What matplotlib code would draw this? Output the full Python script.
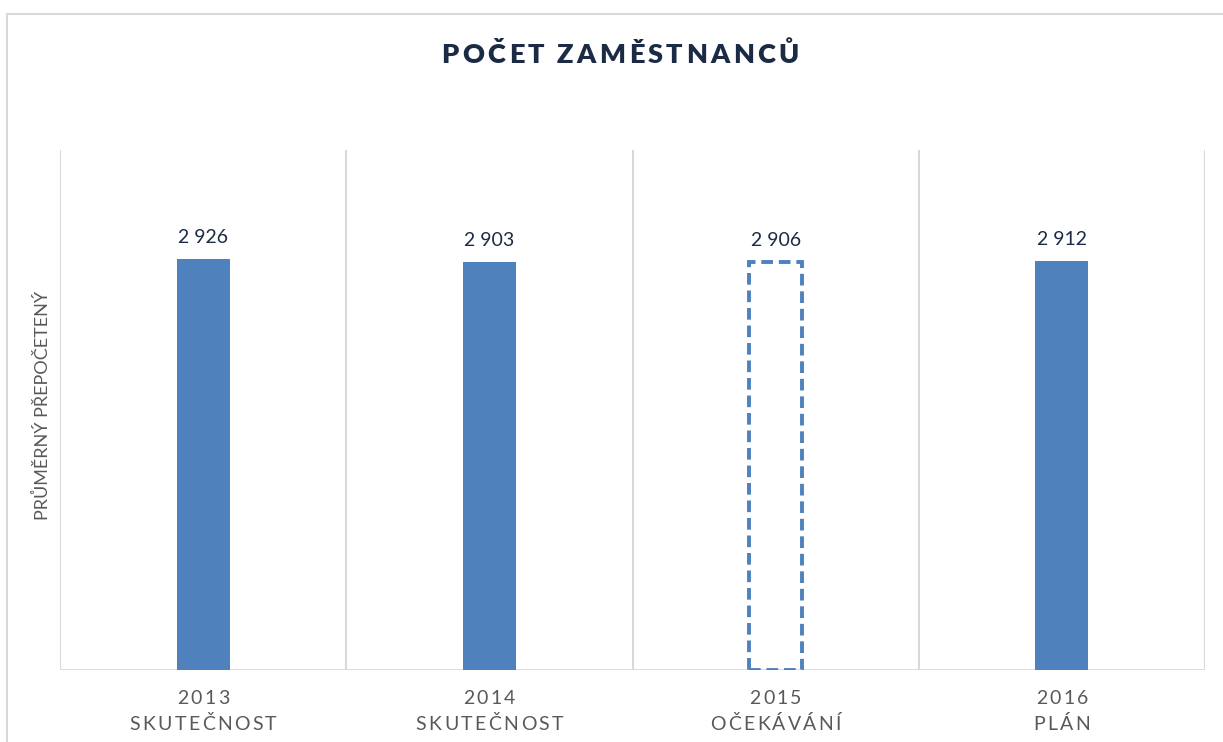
import matplotlib
matplotlib.use("Agg")
import matplotlib.pyplot as plt
from matplotlib import transforms
from matplotlib.font_manager import FontProperties, findfont, get_font
from matplotlib.patches import Rectangle
try:
    from matplotlib.ft2font import LoadFlags
    NO_HINT = LoadFlags.NO_HINTING
except ImportError:
    from matplotlib.ft2font import LOAD_NO_HINTING as NO_HINT

# data
years = ["2013", "2014", "2015", "2016"]
kinds = ["SKUTEČNOST", "SKUTEČNOST", "OČEKÁVÁNÍ", "PLÁN"]
values = [2926, 2903, 2906, 2912]
estimate = [False, False, True, False]

title = "POČET ZAMĚSTNANCŮ"
ylabel = "PRŮMĚRNÝ PŘEPOČETENÝ"

FONT = "Lato"
BLUE = "#4f81bd"
GRID = "#d9d9d9"
GRAY = "#595959"
NAVY = "#1c2b45"

W, H = 1223, 742
fig = plt.figure(figsize=(W / 100, H / 100), dpi=100)
ax = fig.add_axes([60 / W, 1 - 670 / H, (1205 - 60) / W, 520 / H])


def spaced_text(trans, x, y, s, size, track, dy=0, weight="normal", color="k"):
    # draw text letter by letter so the letter spacing can be widened
    fp = FontProperties(family=FONT, size=size, weight=weight)
    font = get_font(findfont(fp))
    font.set_size(size, 72)
    advs = [font.load_char(ord(ch), flags=NO_HINT).linearHoriAdvance / 65536 for ch in s]
    total = sum(advs) + track * (len(s) - 1)
    pos = -total / 2
    for ch, a in zip(s, advs):
        tr = transforms.offset_copy(trans, fig=fig, x=pos + a / 2, y=dy, units="points")
        fig.text(x, y, ch, transform=tr, fontproperties=fp, color=color,
                 ha="center", va="baseline")
        pos += a + track


x = list(range(len(values)))
for i in x:
    if estimate[i]:
        ax.bar(i, values[i], width=0.185, facecolor="none", edgecolor=BLUE,
               linewidth=2.8, linestyle=(0, (3.0, 1.5)), zorder=3)
    else:
        ax.bar(i, values[i], width=0.185, color=BLUE, zorder=3)
    lab = f"{values[i]:,}".replace(",", " ")
    ax.text(i, values[i], lab, transform=transforms.offset_copy(ax.transData, fig=fig, y=11.5, units="points"),
            ha="center", va="baseline", fontsize=14, color=NAVY, family=FONT)
    spaced_text(ax.get_xaxis_transform(), i, 0, years[i], 14, 1.7, dy=-24.5, color=GRAY)
    spaced_text(ax.get_xaxis_transform(), i, 0, kinds[i], 14, 1.7, dy=-43.2, color=GRAY)

ax.set_xlim(-0.5, len(values) - 0.5)
ax.set_ylim(0, 3700)
for b in [i - 0.5 for i in range(len(values) + 1)]:
    ax.axvline(b, color=GRID, linewidth=1.5, zorder=1)
ax.axhline(0, color=GRID, linewidth=2, zorder=2)
for sp in ax.spines.values():
    sp.set_visible(False)
ax.set_xticks([])
ax.set_yticks([])

fig.text(42 / W, 1 - 405 / H, ylabel, rotation=90, ha="center", va="center",
         fontsize=13, color=GRAY, family=FONT)

spaced_text(fig.transFigure, 620 / W, 1 - 63 / H, title, 19.5, 2.4, weight="heavy", color=NAVY)

# chart frame
fig.patches.append(Rectangle((7 / W, -0.1), 1.2, 1.1 - 14 / H, transform=fig.transFigure,
                             fill=False, edgecolor=GRID, linewidth=1.5))

fig.savefig("out.png", dpi=100)
